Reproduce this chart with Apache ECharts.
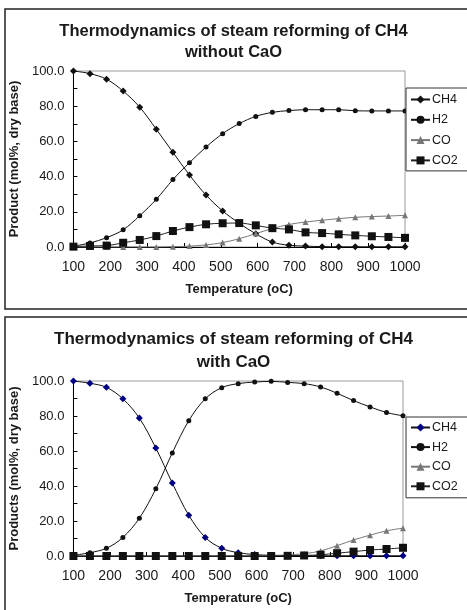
<!DOCTYPE html>
<html>
<head>
<meta charset="utf-8">
<script src="https://cdn.jsdelivr.net/npm/echarts@6/dist/echarts.min.js"></script>
<style>
  html, body { margin: 0; padding: 0; background: #fff; }
  #top { position: absolute; left: 0; top: 0; width: 467px; height: 313px; }
  #bottom { position: absolute; left: 0; top: 313px; width: 467px; height: 297px; }
</style>
</head>
<body>
<div id="top"></div>
<div id="bottom"></div>
<script>
// temperature points (oC)
var temps = [100, 145, 190, 235, 280, 325, 370, 415, 460, 505, 550, 595, 640, 685, 730, 775, 820, 865, 910, 955, 1000];
var xTicks = [100, 200, 300, 400, 500, 600, 700, 800, 900, 1000];
var yTicks = [0, 20, 40, 60, 80, 100];

// without CaO
var ch4_noCaO = [100, 98.5, 95.3, 88.6, 79.4, 66.9, 53.8, 40.9, 29.5, 20.5, 13.5, 7.5, 2.8, 1.0, 0.5, 0.2, 0.1, 0.1, 0.1, 0.1, 0.1];
var h2_noCaO  = [0.5, 2.3, 5.3, 9.8, 17.8, 27.1, 38.3, 47.9, 56.8, 64.4, 70.1, 74.2, 76.5, 77.5, 78.0, 78.0, 78.0, 77.4, 77.3, 77.3, 77.3];
var co_noCaO  = [0, 0, 0, 0, 0, 0, 0.2, 0.5, 1.2, 2.5, 4.7, 7.6, 10.5, 12.8, 14.2, 15.2, 16.1, 16.9, 17.3, 17.6, 18.0];
var co2_noCaO = [0.2, 0.6, 0.8, 2.4, 4.0, 6.2, 9.1, 11.3, 12.9, 13.5, 13.6, 12.3, 10.7, 10.0, 8.3, 7.9, 7.2, 6.6, 6.1, 5.7, 5.2];

// with CaO
var ch4_CaO = [100, 98.7, 96.4, 89.8, 78.8, 61.7, 41.7, 23.3, 10.6, 4.4, 1.9, 0.8, 0.4, 0.2, 0.2, 0.1, 0.1, 0.1, 0.1, 0.1, 0.1];
var h2_CaO  = [0.4, 1.9, 4.4, 10.6, 21.6, 38.4, 58.9, 77.3, 89.8, 96.2, 98.5, 99.4, 99.8, 99.2, 98.5, 96.6, 93.0, 88.8, 85.2, 82.0, 80.1];
var co_CaO  = [0, 0, 0, 0, 0, 0, 0, 0, 0, 0, 0, 0.1, 0.3, 0.6, 1.3, 2.9, 5.9, 9.2, 11.9, 14.4, 15.9];
var co2_CaO = [0, 0, 0, 0, 0, 0, 0, 0, 0, 0, 0, 0, 0, 0.1, 0.3, 0.7, 1.6, 2.5, 3.4, 4.0, 4.7];

var FONT = "'Liberation Sans', Arial, sans-serif";
var TXT = '#1a1a1a';

function pairs(ys) {
    return temps.map(function (t, i) { return [t, ys[i]]; });
}

function lineSeries(name, ys, symbol, size, color, lineColor) {
    return {
        name: name,
        type: 'line',
        data: pairs(ys),
        smooth: 0.35,
        symbol: symbol,
        symbolSize: size,
        showSymbol: true,
        itemStyle: { color: color },
        lineStyle: { color: lineColor, width: 1 },
        emphasis: { disabled: true }
    };
}

// c: layout settings for one panel
function buildOption(c) {
    return {
        animation: false,
        textStyle: { fontFamily: FONT },
        graphic: [{
            type: 'rect',
            shape: { x: 5, y: c.boxTop, width: 480, height: c.boxH },
            style: { fill: 'none', stroke: '#222', lineWidth: 1.5 },
            silent: true
        }],
        title: {
            text: c.title,
            left: 'center',
            top: c.titleTop,
            padding: 0,
            textStyle: { fontSize: c.titleSize, fontWeight: 'bold', color: TXT, lineHeight: c.titleLH, fontFamily: FONT }
        },
        legend: {
            orient: 'vertical',
            left: 406,
            top: c.legendTop,
            backgroundColor: '#fff',
            borderColor: '#333',
            borderWidth: 1,
            borderRadius: 0,
            padding: c.legendPad,
            itemWidth: 19,
            itemHeight: 10,
            itemGap: c.legendGap,
            selectedMode: false,
            textStyle: { fontSize: 12.5, color: TXT, fontFamily: FONT, padding: [0, 0, 0, -3] },
            data: ['CH4', 'H2', 'CO', 'CO2']
        },
        grid: {
            left: c.gridLeft,
            top: c.gridTop,
            width: 332,
            height: 176,
            show: true,
            borderColor: '#9a9a9a',
            borderWidth: 1,
            containLabel: false
        },
        xAxis: {
            type: 'value',
            min: xTicks[0],
            max: xTicks[xTicks.length - 1],
            interval: 100,
            name: 'Temperature (oC)',
            nameLocation: 'middle',
            nameGap: 36,
            nameTextStyle: { fontSize: 13, fontWeight: 'bold', color: TXT, fontFamily: FONT },
            axisLine: { lineStyle: { color: '#000', width: 1 } },
            axisTick: { inside: true, length: 4, lineStyle: { color: '#000' } },
            axisLabel: {
                fontSize: 14, color: TXT, margin: 13, fontFamily: FONT,
                formatter: function (v) { return String(v); }
            },
            splitLine: { show: false }
        },
        yAxis: {
            type: 'value',
            min: yTicks[0],
            max: yTicks[yTicks.length - 1],
            interval: 20,
            name: c.yName,
            nameLocation: 'middle',
            nameGap: 47,
            nameTextStyle: { fontSize: 13, fontWeight: 'bold', color: TXT, fontFamily: FONT },
            axisLine: { show: true, lineStyle: { color: '#000', width: 1 } },
            axisTick: { show: true, inside: true, length: 4, lineStyle: { color: '#000' } },
            minorTick: { show: true, splitNumber: 2, length: 4, lineStyle: { color: '#000' } },
            axisLabel: {
                fontSize: 13, color: TXT, margin: 9, fontFamily: FONT,
                formatter: function (v) { return v.toFixed(1); }
            },
            splitLine: { show: false }
        },
        series: [
            lineSeries('CH4', c.ch4, 'diamond', 7, c.ch4Color, '#111'),
            lineSeries('H2', c.h2, 'circle', 5, '#111', '#111'),
            lineSeries('CO', c.co, 'triangle', 6, '#777', '#777'),
            lineSeries('CO2', c.co2, 'rect', 8, '#111', '#222')
        ]
    };
}

var chartTop = echarts.init(document.getElementById('top'));
chartTop.setOption(buildOption({
    boxTop: 9, boxH: 300,
    title: 'Thermodynamics of steam reforming of CH4\nwithout CaO',
    titleTop: 21, titleSize: 16.5, titleLH: 21,
    legendTop: 88, legendPad: [5, 10, 4, 4], legendGap: 7.3,
    gridLeft: 73, gridTop: 71,
    yName: 'Product (mol%, dry base)',
    ch4: ch4_noCaO, h2: h2_noCaO, co: co_noCaO, co2: co2_noCaO,
    ch4Color: '#111'
}));

var chartBottom = echarts.init(document.getElementById('bottom'));
chartBottom.setOption(buildOption({
    boxTop: 4, boxH: 400,
    title: 'Thermodynamics of steam reforming of CH4\nwith CaO',
    titleTop: 15, titleSize: 17, titleLH: 23,
    legendTop: 104, legendPad: [4, 10, 5, 4], legendGap: 6.6,
    gridLeft: 71, gridTop: 68,
    yName: 'Products (mol%, dry base)',
    ch4: ch4_CaO, h2: h2_CaO, co: co_CaO, co2: co2_CaO,
    ch4Color: '#000080'
}));
</script>
</body>
</html>
